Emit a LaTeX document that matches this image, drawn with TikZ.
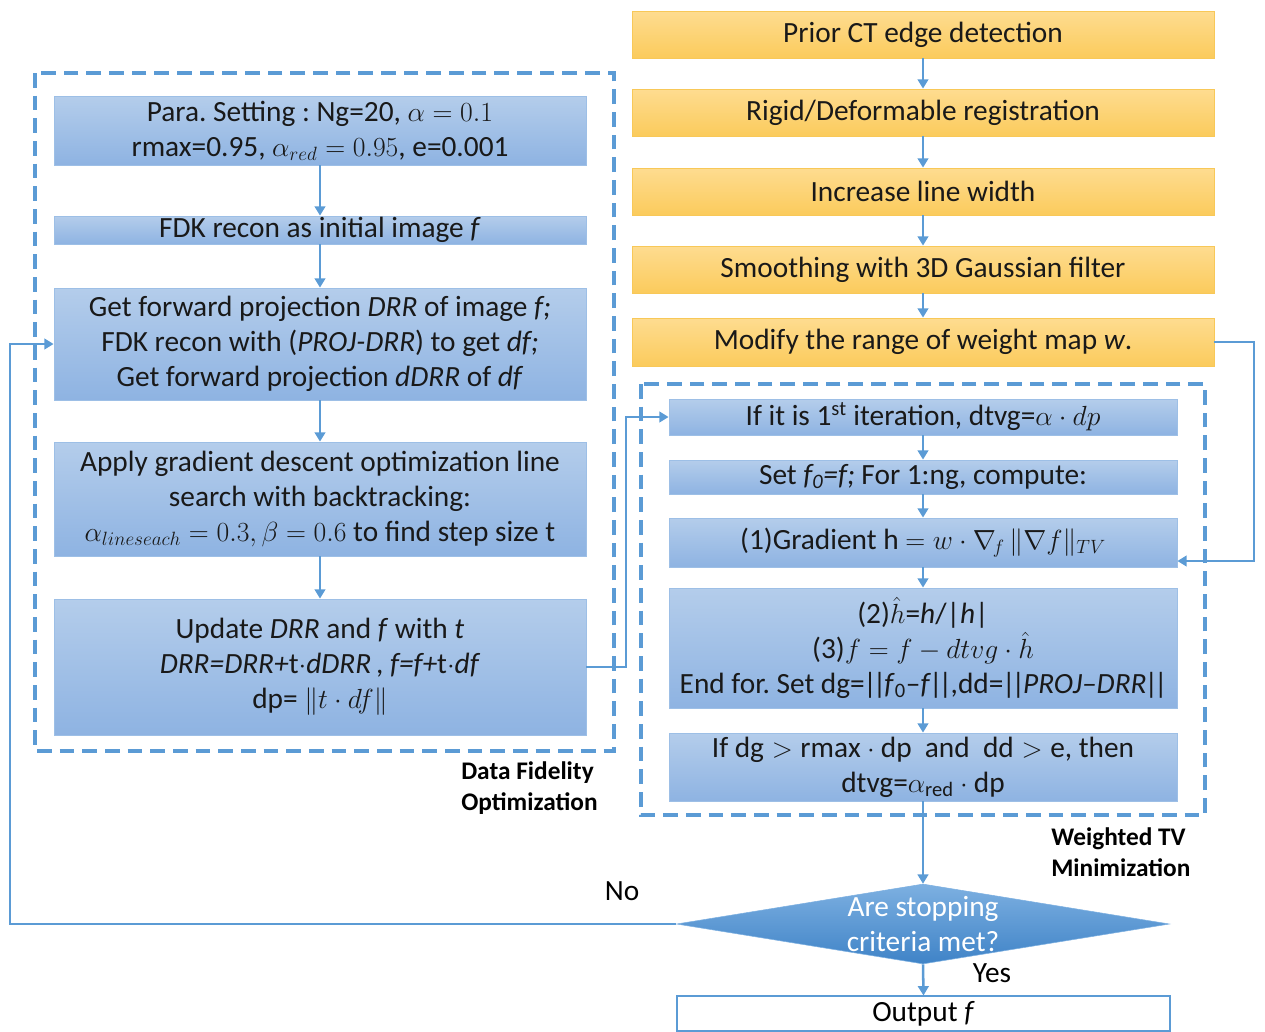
\documentclass[tikz,border=0pt]{standalone}
\usepackage{fontspec}
\setmainfont{Carlito}
\usetikzlibrary{arrows.meta,shapes.geometric}
\definecolor{lineblue}{HTML}{5B9BD5}
\definecolor{bluetop}{HTML}{B4CDEB}
\definecolor{bluebot}{HTML}{8EB3E2}
\definecolor{blueedge}{HTML}{9DBFE6}
\definecolor{orangetop}{HTML}{FEDC90}
\definecolor{orangebot}{HTML}{FBCB5C}
\definecolor{orangeedge}{HTML}{F8C858}
\definecolor{diatop}{HTML}{7DB0E1}
\definecolor{diabot}{HTML}{3F83C7}
\newcommand{\boxfont}{\fontsize{22}{26.25}\selectfont}
\newcommand{\lblfont}{\fontsize{19}{23.25}\selectfont\bfseries}
\newcommand{\dbarL}{\kern-1pt|\kern-3pt|\kern-1.5pt}
\newcommand{\dbarR}{\kern-1.5pt|\kern-3pt|\kern-1pt}
\frenchspacing
\begin{document}
\begin{tikzpicture}[x=0.75pt,y=-0.75pt,
  bluebox/.style={draw=blueedge, line width=0.6pt, top color=bluetop, bottom color=bluebot, inner sep=0pt, align=center, font=\boxfont, text=black!90},
  orangebox/.style={draw=orangeedge, line width=0.6pt, top color=orangetop, bottom color=orangebot, inner sep=0pt, align=center, font=\boxfont, minimum width=436.5pt, text=black!90},
  conn/.style={draw=lineblue, line width=1.9pt, -{Triangle[width=8pt,length=7pt]}},
  dashbox/.style={draw=lineblue, line width=2.4pt, dash pattern=on 11pt off 6pt},
  lbl/.style={font=\lblfont, align=left, inner sep=0pt},
  plain/.style={font=\boxfont, inner sep=0pt}]
\useasboundingbox (0,0) rectangle (1265,1032);

% dashed group frames
\draw[dashbox] (35,73) rectangle (614,751);
\draw[dashbox] (641,384) rectangle (1205,815);

% orange chain
\node[orangebox, minimum height=35.25pt] (o1) at (923,34.5) {Prior CT edge detection};
\node[orangebox, minimum height=35.25pt] (o2) at (923,112.5) {Rigid/Deformable registration};
\node[orangebox, minimum height=35.25pt] (o3) at (923,191.5) {Increase line width};
\node[orangebox, minimum height=35.25pt] (o4) at (923,269.5) {Smoothing with 3D Gaussian filter};
\node[orangebox, minimum height=36pt] (o5) at (923,342) {Modify the range of weight map \textit{w}.};

% left column
\node[bluebox, minimum width=399pt, minimum height=51.75pt] (a) at (320,130.5)
  {Para. Setting : Ng=20, $\alpha = 0.1$\\rmax=0.95, $\alpha_{red} = 0.95$, e=0.001};
\node[bluebox, minimum width=399pt, minimum height=21pt] (b) at (320,230)
  {FDK recon as initial image \textit{f}};
\node[bluebox, minimum width=399pt, minimum height=84pt] (c) at (320,344)
  {Get forward projection \textit{DRR} of image \textit{f;}\\FDK recon with (\textit{PROJ-DRR}) to get \textit{df;}\\Get forward projection \textit{dDRR} of \textit{df}};
\node[bluebox, minimum width=399pt, minimum height=85.5pt] (d) at (320,499)
  {Apply gradient descent optimization line\\search with backtracking:\\$\alpha_{lineseach} = 0.3, \beta = 0.6$ to find step size t};
\node[bluebox, minimum width=399pt, minimum height=102pt] (e) at (320,667)
  {Update \textit{DRR} and \textit{f} with \textit{t}\\\textit{DRR=DRR+}t$\cdot$\textit{dDRR}\,, \textit{f=f+}t$\cdot$\textit{df}\\dp= $\|t\cdot df\|$};

% right column
\node[bluebox, minimum width=381pt, minimum height=27pt] (r1) at (923,417)
  {If it is 1\textsuperscript{st} iteration, dtvg=$\alpha\cdot dp$};
\node[bluebox, minimum width=381pt, minimum height=25.5pt] (r2) at (923,477)
  {Set \textit{f\textsubscript{0}=f;} For 1:ng, compute:};
\node[bluebox, minimum width=381pt, minimum height=36.75pt] (r3) at (923,542.5)
  {(1)Gradient h $= w\cdot\nabla_{\!f}\,\|\nabla f\|_{TV}$};
\node[bluebox, minimum width=381pt, minimum height=90pt] (r4) at (923,648)
  {(2)$\hat{h}$=\textit{h}/|\textit{h}|\\(3)$f = f - dtvg\cdot\hat{h}$\\End for. Set dg=\dbarL\textit{f}\textsubscript{0}--\textit{f}\dbarR,dd=\dbarL\textit{PROJ--DRR}\dbarR};
\node[bluebox, minimum width=381pt, minimum height=51pt] (r5) at (923,767)
  {If $\mathrm{dg} > \mathrm{rmax}\cdot\mathrm{dp}\ \ \mathrm{and}\ \ \mathrm{dd} > \mathrm{e}$, then\\dtvg=$\mathrm{\alpha_{red}}\cdot\mathrm{dp}$};

% decision and output
\node[diamond, minimum width=369.75pt, minimum height=60pt, inner sep=0pt, top color=diatop, bottom color=diabot, draw=diatop, line width=0.4pt] (dec) at (923,924) {};
\node[plain, text=white, align=center] (dectext) at (dec.center) {Are stopping\\criteria met?};
\node[draw=lineblue, line width=0.8pt, fill=white, minimum width=369.75pt, minimum height=26.25pt, inner sep=0pt, font=\boxfont] (out) at (923.5,1013.5) {Output \textit{f}};

% labels
\node[lbl, anchor=west] (dfo) at (461,788) {Data Fidelity\\Optimization};
\node[lbl, anchor=west] (wtv) at (1051,852) {Weighted TV\\Minimization};
\node[plain] (no) at (622,891) {No};
\node[plain] (yes) at (992,973) {Yes};

% connectors: orange chain
\draw[conn] (o1) -- (o2);
\draw[conn] (o2) -- (o3);
\draw[conn] (o3) -- (o4);
\draw[conn] (o4) -- (o5);
\coordinate (wturn) at (1254,561);
\draw[conn] (o5.east) -| (wturn) -- (r3.east |- wturn);

% left chain
\draw[conn] (a) -- (b);
\draw[conn] (b) -- (c);
\draw[conn] (c) -- (d);
\draw[conn] (d) -- (e);
\coordinate (j1) at (626,417);
\draw[conn] (e.east) -| (j1) -- (r1.west);

% right chain
\draw[conn] (r1) -- (r2);
\draw[conn] (r2) -- (r3);
\draw[conn] (r3) -- (r4);
\draw[conn] (r4) -- (r5);
\draw[conn] (r5) -- (dec.north);
\draw[conn] (dec.south) -- (out.north);
\coordinate (j2) at (10,344);
\draw[conn, line width=2.2pt] (dec.west) -| (j2) -- (c.west);
\end{tikzpicture}
\end{document}
